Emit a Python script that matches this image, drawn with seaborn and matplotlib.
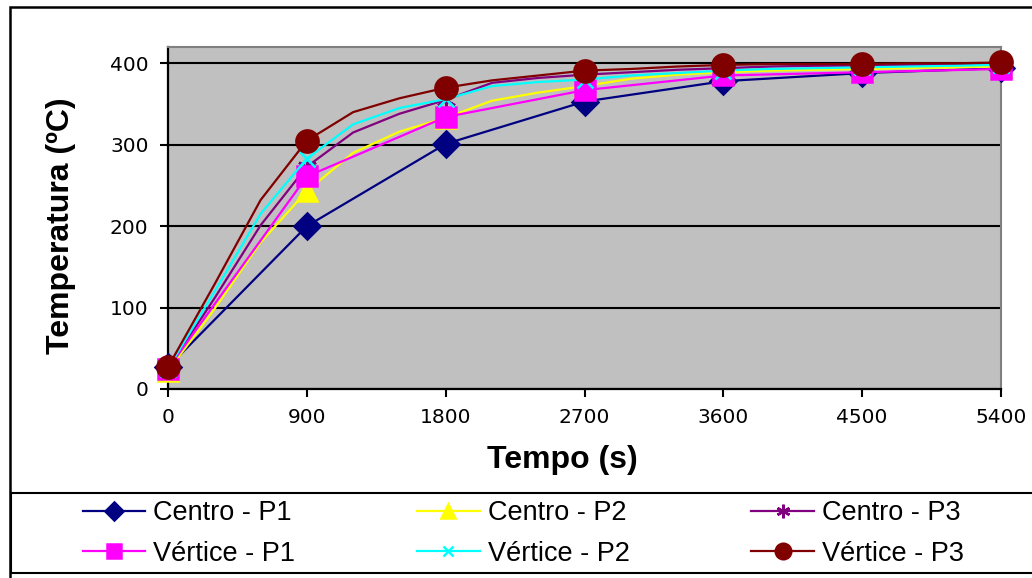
import pandas as pd
import seaborn as sns
import matplotlib.pyplot as plt
from matplotlib.patches import Rectangle

# tempos (s)
tempo_900 = [0, 900, 1800, 2700, 3600, 4500, 5400]
tempo_300 = [0, 300, 600, 900, 1200, 1500, 1800, 2100, 2400, 2700,
             3000, 3300, 3600, 3900, 4200, 4500, 4800, 5100, 5400]

# temperaturas (ºC)
centro_p1 = [27, 200, 301, 353, 378, 388, 394]
vertice_p1 = [25, 261, 334, 367, 385, 389, 393]
centro_p2 = [22, 98, 180, 243, 290, 316, 333, 354, 364, 372,
             381, 386, 389, 391, 392, 393, 394, 395, 396]
centro_p3 = [25, 111, 201, 273, 315, 338, 355, 376, 382, 386,
             389, 392, 394, 396, 397, 397, 398, 398, 399]
vertice_p2 = [25, 119, 215, 283, 325, 345, 356, 372, 377, 380,
              385, 388, 391, 393, 394, 395, 396, 397, 398]
vertice_p3 = [27, 128, 232, 305, 340, 357, 370, 379, 385, 391,
              393, 396, 398, 399, 399, 399, 400, 400, 401]

x_ticks = [0, 900, 1800, 2700, 3600, 4500, 5400]
y_ticks = [0, 100, 200, 300, 400]

# (label, tempos, valores, cor, marcador, tamanho, markevery)
series = [
    ("Centro - P1", tempo_900, centro_p1, "#000080", "D", 13, 1),
    ("Centro - P2", tempo_300, centro_p2, "#FFFF00", "^", 15, 3),
    ("Centro - P3", tempo_300, centro_p3, "#800080", (6, 2, 0), 14, 3),
    ("Vértice - P1", tempo_900, vertice_p1, "#FF00FF", "s", 15, 1),
    ("Vértice - P2", tempo_300, vertice_p2, "#00FFFF", "x", 11, 3),
    ("Vértice - P3", tempo_300, vertice_p3, "#800000", "o", 16, 3),
]

plt.rcParams['font.family'] = ['Liberation Sans', 'DejaVu Sans']

fig = plt.figure(figsize=(10.32, 5.78), dpi=100)
ax = fig.add_axes([168/1032, 1 - 389/578, 833/1032, 342/578])
ax.set_facecolor("#C0C0C0")

for label, t, v, cor, mk, ms, every in series:
    df = pd.DataFrame({"tempo": t, "temp": v})
    sns.lineplot(data=df, x="tempo", y="temp", ax=ax, color=cor, label=label,
                 marker=mk, markersize=ms, markevery=every, linewidth=1.6,
                 markeredgecolor=cor, markerfacecolor=cor, markeredgewidth=1.8,
                 clip_on=False, zorder=3)

if ax.get_legend() is not None:
    ax.get_legend().remove()

ax.set_xlim(0, 5400)
ax.set_ylim(0, 420)
ax.set_xticks(x_ticks)
ax.set_yticks(y_ticks)
ax.set_axisbelow(True)
ax.yaxis.grid(True, color="black", linewidth=1.5)
ax.xaxis.grid(False)

for lab in ax.get_xticklabels() + ax.get_yticklabels():
    lab.set_fontfamily("DejaVu Sans")
    lab.set_fontsize(14.5)
ax.tick_params(direction="out", length=6, width=1.5, pad=8, color="black")

ax.spines["left"].set_color("black")
ax.spines["bottom"].set_color("black")
ax.spines["left"].set_linewidth(1.6)
ax.spines["bottom"].set_linewidth(1.6)
ax.spines["top"].set_color("#808080")
ax.spines["right"].set_color("#808080")
ax.spines["top"].set_linewidth(1.5)
ax.spines["right"].set_linewidth(1.5)

ax.set_xlabel("Tempo (s)", fontsize=23, fontweight="bold")
ax.set_ylabel("Temperatura (ºC)", fontsize=23, fontweight="bold")
ax.xaxis.set_label_coords((562 - 168) / 833, -0.165)
ax.yaxis.set_label_coords((76 - 168) / 833, (389 - 226) / 342)

# legenda em 3 colunas: Centro na 1a linha, Vertice na 2a
handles, labels = ax.get_legend_handles_labels()
ordem = [0, 3, 1, 4, 2, 5]
fig.legend([handles[i] for i in ordem], [labels[i] for i in ordem],
           ncol=3, loc="upper left",
           bbox_to_anchor=(83/1032, 1 - 500/578), frameon=False,
           fontsize=19.5, handlelength=2.3, handletextpad=0.3, markerscale=0.7,
           columnspacing=4.5, labelspacing=0.55, borderpad=0, borderaxespad=0)

# moldura da legenda e do grafico
fig.add_artist(Rectangle((11/1032, 1 - 573/578), 2, 80/578, transform=fig.transFigure,
                         fill=False, edgecolor="black", linewidth=1.5))
fig.add_artist(Rectangle((10/1032, -0.5), 2, 1.5 - 7/578, transform=fig.transFigure,
                         fill=False, edgecolor="black", linewidth=1.8))

fig.savefig("out.png", dpi=100)
